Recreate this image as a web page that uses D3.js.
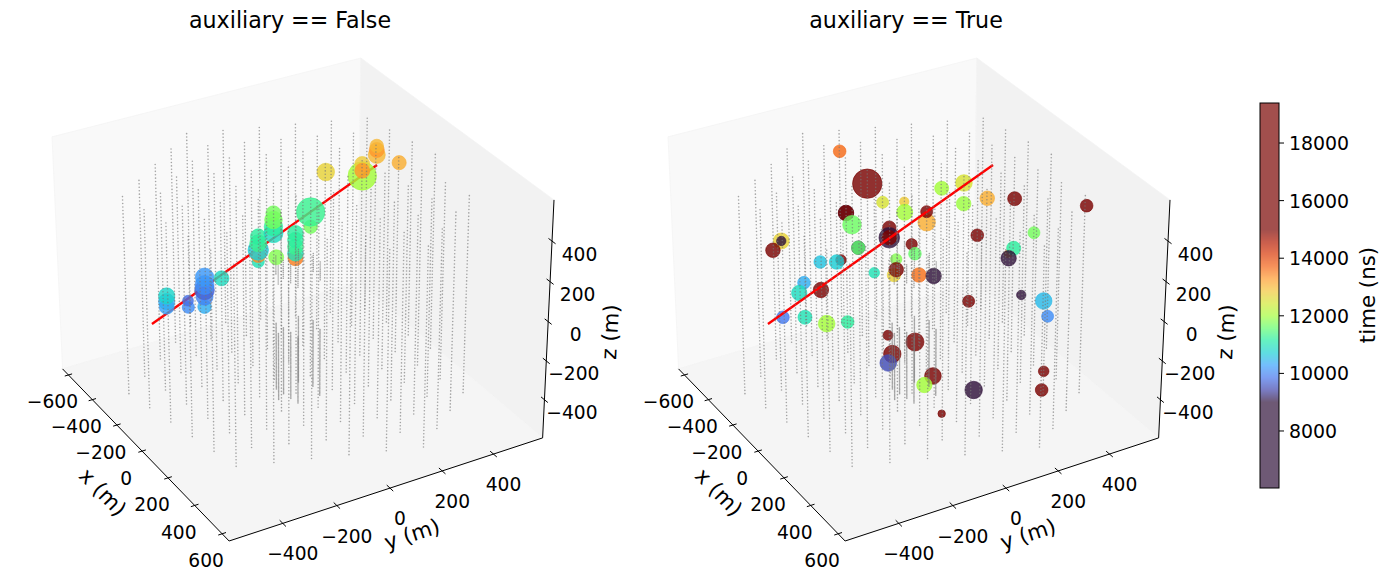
<!DOCTYPE html><html><head><meta charset="utf-8">
<style>html,body{margin:0;background:#fff}svg{display:block}text{font-family:"DejaVu Sans";fill:#000}</style>
<script src="https://cdn.jsdelivr.net/npm/d3@7"></script></head><body><svg id="c" width="1387" height="586"></svg>
<script>
const stringX=[-256,-132.5,-9,114.5,238,361.5,-334.5,-211,-87.5,36,159.5,283,406.5,-413,-289.5,-166,-42.5,81,204.5,328,451.5,-491.5,-368,-244.5,-121,2.5,126,249.5,373,496.5,-570,-446.5,-323,-199.5,-76,47.5,171,294.5,418,541.5,-525,-401.5,-278,-154.5,-31,92.5,216,339.5,463,586.5,-480,-356.5,-233,-109.5,14,137.5,261,384.5,508,-435,-311.5,-188,-64.5,59,182.5,306,429.5,-390,-266.5,-143,-19.5,104,227.5,351,-345,-221.5,-98,25.5];
const stringY=[-521,-501.3,-481.6,-461.9,-442.2,-422.5,-423.7,-404,-384.3,-364.6,-344.9,-325.2,-305.5,-326.4,-306.7,-287,-267.3,-247.6,-227.9,-208.2,-188.5,-229.1,-209.4,-189.7,-170,-150.3,-130.6,-110.9,-91.2,-71.5,-131.8,-112.1,-92.4,-72.7,-53,-33.3,-13.6,6.1,25.8,45.5,-14.8,4.9,24.6,44.3,64,83.7,103.4,123.1,142.8,162.5,102.2,121.9,141.6,161.3,181,200.7,220.4,240.1,259.8,219.2,238.9,258.6,278.3,298,317.7,337.4,357.1,336.2,355.9,375.6,395.3,415,434.7,454.4,453.2,472.9,492.6,512.3];
const domZ=[500,483,466,449,432,415,398,381,364,347,330,313,296,279,262,245,228,211,194,177,160,143,126,109,92,75,58,41,24,7,-10,-27,-44,-61,-78,-95,-112,-129,-146,-163,-180,-197,-214,-231,-248,-265,-282,-299,-316,-333,-350,-367,-384,-401,-418,-435,-452,-469,-486,-503];
const coreX=[31.25,72.37,41.6,106.94,113.19,57.2,-9.68,-10.97];
const coreY=[-72.93,-66.6,35.49,27.09,-60.47,-105.52,-79.5,6.72];
const coreZ=[186,176,166,156,146,136,126,116,106,96,-157,-164,-171,-178,-185,-192,-199,-206,-213,-220,-227,-234,-241,-248,-255,-262,-269,-276,-283,-290,-297,-304,-311,-318,-325,-332,-339,-346,-353,-360,-367,-374,-381,-388,-395,-402,-409,-416,-423,-430,-437,-444,-451,-458,-465,-472,-479,-486,-493,-500];
const trackX=[-208.4,-48.7], trackY=[-449.2,327.3], trackZ=[-138.3,470.9];
const falseX=[-208.7,-216.5,-225.4,-168.5,-179.4,-140.1,-155.7,-166.1,-173.9,-185.9,-153.7,-113,-123.4,-131.2,-141.6,-151.9,-129.7,-140,-150.4,-160.8,-87.4,-51,-58.8,-69,-79.5,-89.9,-72.7,-95.5,-130.4,-58.2,-76.9,-66.4,-64.6,-72.3,-78.6,-12.1];
const falseY=[-392.8,-388.6,-383.9,-331,-326.5,-284,-275.7,-270.3,-266.2,-259.8,-212.1,-93,-87.5,-83.3,-77.8,-72.4,-26,-20.6,-15,-9.6,-37.9,16.7,20.8,26.1,31.7,37.2,86.2,98.3,174.5,276,285.9,280.3,334.9,339,342.3,392.8];
const falseZ=[-72,-52.9,-31,-74.3,-49,-72,-33.7,-8,11.1,40.6,36.8,100.4,126.1,145.2,170.9,196.2,209.2,234.5,260.2,285.8,117.2,113.4,132.6,157.9,183.5,209.2,234.5,290.8,444.1,428.8,474.7,449.1,509.2,528.4,543.7,479.7];
const falseTime=[10300,10400,10800,10100,9800,10400,10000,9700,10100,10200,10900,11000,13400,10700,11300,11200,10900,11200,11700,11700,11800,13500,11000,11300,11200,11200,11700,11300,12700,12000,12800,13300,13000,13300,13000,13100];
const falseCharge=[56,66,66,37,29,46,72,96,90,85,56,37,56,104,72,61,90,85,77,56,56,56,61,61,61,61,46,202,77,202,56,56,72,56,46,50];
const trueX=[-347.4,-247.1,-190.2,-152.1,-134.9,-240,-240,-211,-79.5,-96,-105.2,-73.2,-41.5,-7.2,43.1,184.3,-313.5,-313.5,-314,-163.8,-163.8,-138.8,-123.2,-123.2,-72.4,-51.8,-76.9,-56.7,-60.7,-95.9,-210.2,-175.9,-180.6,-207.5,-200,-165.4,-11.4,16.8,32.3,130.9,117.5,118.5,124.9,204.9,119.5,254.8,285.8,-191.6,-151.8,-102.7,-67.3,26.4,85.6,63.3,70,171.1,169.6,266.6,364.2,389.6,245.6];
const trueY=[-101.4,-48.9,-20,42.5,35,-134,-134,-126.5,89.8,98.6,160.9,229.2,211.3,283.5,361.7,562.5,-342.7,-342.7,-374.3,-127.3,-127.3,-21.8,-30.1,-30.1,28.7,30.4,-27.9,-47.3,-36.5,-102,-248.1,-187.1,-201.1,-311.9,-333.9,-269.2,24.4,65.7,224.4,389.2,297.9,318.1,295.5,301.4,145.3,360.9,359.6,-400.7,-337.5,-280.5,-218.9,-114.2,-42.1,-117.1,-136.1,-18.5,-50.6,86.7,303.1,281.9,-24.6];
const trueZ=[523.4,399.3,328,330.3,289.7,287,287,242.2,251.4,292,381.6,401.9,322.6,343.3,341.8,315,179.7,179.7,144.1,154,154,230.7,192.3,192.3,167.1,131,109.6,49.4,69.7,58.2,99.2,106.9,99.2,19.9,-19.5,-8,49.4,45.6,201.5,211.5,129.9,151.7,113.4,-27.2,-51.3,-50.2,-108.8,-112.6,-112.6,-137.2,-130.7,-181.6,-207.3,-253.3,-287.8,-337.6,-372,-391.2,-319.6,-391.2,-482];
const trueTime=[13650,17000,12500,12800,12000,8000,16500,11650,13100,16000,12000,12500,11950,13100,16500,16500,12700,7500,16500,7500,11550,16500,7500,17000,16500,11600,11800,12700,16800,11000,10600,16500,10700,10400,10900,16500,13600,8000,16500,11700,12900,11200,7800,7800,16500,10500,10100,9900,11000,12000,11200,16500,16500,16500,9500,16500,12000,7800,16500,16500,16500];
const trueCharge=[40,216,36,22,64,59,59,86,76,36,49,69,53,53,49,40,64,22,53,45,45,45,106,53,32,40,32,45,53,28,40,28,53,40,59,59,53,59,40,36,16,49,59,22,36,69,36,40,49,69,40,25,81,76,69,69,59,76,28,40,14];
const xTicks=[-600,-400,-200,0,200,400,600], yTicks=[-400,-200,0,200,400], zTicks=[-400,-200,0,200,400], cbTicks=[8000,10000,12000,14000,16000,18000];
const xLim=[-650,650], yLim=[-595,595], zLim=[-600,600];
const elev=30*Math.PI/180, azim=-30*Math.PI/180, dist=10;
const turbo=["#30123b","#4145ab","#4675ed","#39a2fc","#1bcfd4","#24eca6","#61fc6c","#a4fc3b","#d1e834","#f3c63a","#fe9b2d","#f36315","#d93806","#b11901","#7a0402"];
const tMin=9000,tMax=15000;
const color=d3.scaleLinear().domain(turbo.map((_,i)=>tMin+(tMax-tMin)*i/14)).range(turbo).clamp(true);
const rad=d3.scaleSqrt().domain([0,100]).range([0,10]);
const fmt=v=>String(v).replace("-","\u2212");
const A=[4,4,3].map(v=>v*1.8294640721620434*25/24/Math.hypot(4,4,3));
const R=A.map(v=>v/2);
const w=[Math.cos(elev)*Math.cos(azim),Math.cos(elev)*Math.sin(azim),Math.sin(elev)];
const u=[-Math.sin(azim),Math.cos(azim),0];
const v=[-Math.sin(elev)*Math.cos(azim),-Math.sin(elev)*Math.sin(azim),Math.cos(elev)];
const dot=(a,b)=>a[0]*b[0]+a[1]*b[1]+a[2]*b[2];
const nx=d3.scaleLinear().domain(xLim).range([0,A[0]]),ny=d3.scaleLinear().domain(yLim).range([0,A[1]]),nz=d3.scaleLinear().domain(zLim).range([0,A[2]]);
function proj(x,y,z){const p=[nx(x)-R[0],ny(y)-R[1],nz(z)-R[2]];const d=dist-dot(p,w);return [dot(p,u)/d,dot(p,v)/d];}
const cA=proj(xLim[0],yLim[0],zLim[1]),cB=proj(xLim[1],yLim[1],zLim[1]),cC=proj(xLim[0],yLim[1],zLim[1]),cD=proj(xLim[1],yLim[0],zLim[0]);
const svg=d3.select("#c");
function panel(dx,title,hx,hy,hz,ht,hq,lineOnTop){
 const sx=d3.scaleLinear().domain([cA[0],cB[0]]).range([52+dx,554+dx]);
 const sy=d3.scaleLinear().domain([cC[1],cD[1]]).range([58,541]);
 const P=(x,y,z)=>{const q=proj(x,y,z);return [sx(q[0]),sy(q[1])];};
 const g=svg.append("g");
 const [x0,x1]=xLim,[y0,y1]=yLim,[z0,z1]=zLim;
 const poly=(pts,fill)=>g.append("polygon").attr("points",pts.map(p=>P(...p).join(",")).join(" ")).attr("fill",fill).attr("stroke","#f4f4f4").attr("stroke-width",.8);
 poly([[x0,y0,z0],[x0,y1,z0],[x0,y1,z1],[x0,y0,z1]],"#f9f9f9");
 poly([[x0,y1,z0],[x1,y1,z0],[x1,y1,z1],[x0,y1,z1]],"#f2f2f2");
 poly([[x0,y0,z0],[x1,y0,z0],[x1,y1,z0],[x0,y1,z0]],"#f5f5f5");
 const line=(a,b,wd=1)=>{const p=P(...a),q=P(...b);g.append("line").attr("x1",p[0]).attr("y1",p[1]).attr("x2",q[0]).attr("y2",q[1]).attr("stroke","#000").attr("stroke-width",wd);};
 line([x0,y0,z0],[x1,y0,z0]);line([x1,y0,z0],[x1,y1,z0]);line([x1,y1,z0],[x1,y1,z1]);
 const label=(p,t,fs=18.67,rot=0)=>g.append("text").attr("transform",`translate(${p[0]},${p[1]}) rotate(${rot})`).attr("text-anchor","middle").attr("dominant-baseline","central").attr("font-size",fs).text(t);
 xTicks.forEach(t=>{line([t,y0-14,z0],[t,y0+14,z0]);const p=P(t,y0,z0);label([p[0]-16,p[1]+27],fmt(t));});
 yTicks.forEach(t=>{line([x1-22,t,z0],[x1+22,t,z0]);const p=P(x1,t,z0);label([p[0]+10,p[1]+30.5],fmt(t));});
 zTicks.forEach(t=>{line([x1-22,y1,t],[x1+22,y1,t]);const p=P(x1,y1,t);label([p[0]+27.5,p[1]+13],fmt(t));});
 label([103+dx,492],"x (m)",21.33,46);label([412+dx,534],"y (m)",21.33,-18);label([610+dx,332],"z (m)",21.33,-87);
 label([290+dx,20],title,22.2);
 const drawTrack=()=>{const a=P(trackX[0],trackY[0],trackZ[0]),b=P(trackX[1],trackY[1],trackZ[1]);g.append("line").attr("x1",a[0]).attr("y1",a[1]).attr("x2",b[0]).attr("y2",b[1]).attr("stroke","#f00").attr("stroke-width",2.4);};
 if(!lineOnTop)drawTrack();
 g.append("g").selectAll("circle").data(hx).join("circle")
  .each(function(d,i){const p=P(hx[i],hy[i],hz[i]);const c=color(ht[i]);d3.select(this).attr("cx",p[0]).attr("cy",p[1]).attr("r",rad(hq[i])).attr("fill",c).attr("fill-opacity",.82).attr("stroke",c).attr("stroke-opacity",.6).attr("stroke-width",1);});
 if(lineOnTop)drawTrack();
 const dots=g.append("g").attr("fill","#767676").attr("fill-opacity",.65);
 const addDot=(x,y,z)=>{const p=P(x,y,z);dots.append("circle").attr("cx",p[0]).attr("cy",p[1]).attr("r",.8);};
 stringX.forEach((x,i)=>domZ.forEach(z=>addDot(x,stringY[i],z)));
 coreX.forEach((x,i)=>coreZ.forEach(z=>addDot(x,coreY[i],z)));
}
panel(0,"auxiliary == False",falseX,falseY,falseZ,falseTime,falseCharge,false);
panel(616,"auxiliary == True",trueX,trueY,trueZ,trueTime,trueCharge,true);
const cb=svg.append("g");const cy=d3.scaleLinear().domain([6020,19390]).range([488,103]);
d3.range(0,385).forEach(i=>cb.append("rect").attr("x",1260).attr("y",103+i).attr("width",19).attr("height",1).attr("fill",color(cy.invert(103.5+i))).attr("fill-opacity",.7));
cb.append("rect").attr("x",1260).attr("y",103).attr("width",19).attr("height",385).attr("fill","none").attr("stroke","#000");
cbTicks.forEach(t=>{cb.append("line").attr("x1",1279).attr("x2",1284).attr("y1",cy(t)).attr("y2",cy(t)).attr("stroke","#000");cb.append("text").attr("x",1289).attr("y",cy(t)).attr("dominant-baseline","central").attr("font-size",18.9).text(t);});
cb.append("text").attr("transform","translate(1367,295) rotate(-90)").attr("text-anchor","middle").attr("dominant-baseline","central").attr("font-size",21.33).text("time (ns)");
</script></body></html>
